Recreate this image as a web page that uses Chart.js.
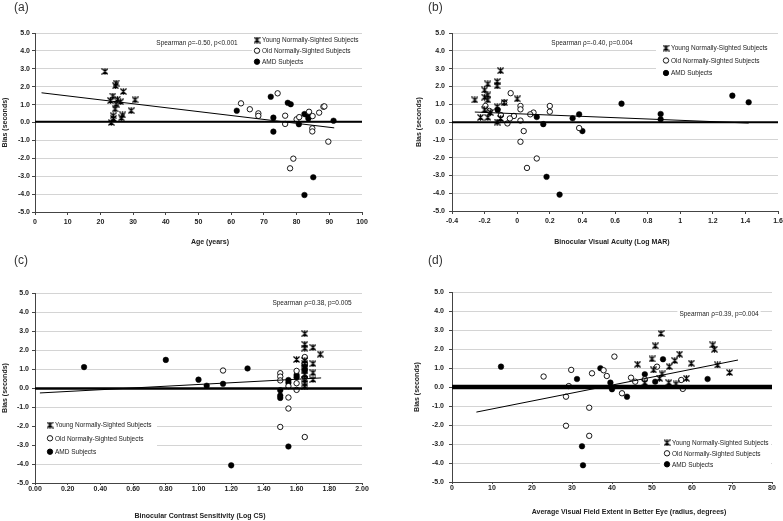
<!DOCTYPE html>
<html>
<head>
<meta charset="utf-8">
<script src="https://cdn.jsdelivr.net/npm/chart.js@4.4.1/dist/chart.umd.min.js"></script>
<style>
  html, body { margin: 0; padding: 0; background: #fff; }
  #wrap { position: relative; width: 783px; height: 521px; overflow: hidden; }
  canvas { position: absolute; }
  .letter { position: absolute; font: 12px 'Liberation Sans', Arial, sans-serif; color: #333; line-height: 12px; }
</style>
</head>
<body>
<div id="wrap">
  <canvas id="chartA" width="390" height="260" style="left:0;top:0"></canvas>
  <canvas id="chartB" width="393" height="260" style="left:390px;top:0"></canvas>
  <canvas id="chartC" width="390" height="261" style="left:0;top:260px"></canvas>
  <canvas id="chartD" width="393" height="261" style="left:390px;top:260px"></canvas>
  <div class="letter" style="left:14px;top:1px">(a)</div>
  <div class="letter" style="left:428px;top:1px">(b)</div>
  <div class="letter" style="left:14px;top:254px">(c)</div>
  <div class="letter" style="left:428px;top:254px">(d)</div>
</div>
<script>
// ---- values ----
const legendLabels = ['Young Normally-Sighted Subjects', 'Old Normally-Sighted Subjects', 'AMD Subjects'];

// (a) bias vs age
const youngAge = [[21.4,2.85],[24.8,2.2],[24.6,2.05],[27.0,1.73],[23.8,1.48],[25.2,1.3],[26.2,1.16],[23.1,1.22],[30.6,1.27],[24.8,1.03],[24.5,0.76],[29.4,0.66],[26.8,0.42],[23.9,0.38],[24.0,0.22],[26.4,0.26],[23.3,0.0]];
const oldAge = [[63.0,1.07],[65.7,0.74],[68.3,0.51],[68.3,0.37],[74.2,1.63],[76.5,0.38],[76.5,-0.08],[79.0,-2.02],[78.0,-2.56],[80.0,0.18],[80.8,0.3],[83.8,0.6],[84.9,0.36],[84.8,-0.33],[84.8,-0.5],[86.9,0.55],[88.2,0.88],[88.5,0.9],[89.7,-1.07]];
const amdAge = [[61.7,0.66],[72.1,1.44],[72.9,0.27],[72.9,-0.51],[77.3,1.1],[78.2,1.02],[80.7,-0.1],[82.4,0.47],[83.3,0.42],[83.6,0.23],[85.1,-3.06],[82.4,-4.05],[91.3,0.1]];
const fitAge = [[2, 1.66], [91.5, -0.3]];
const zeroAge = [[0, 0.04], [100, 0.04]];

// (b) bias vs visual acuity
const youngVA = [[-0.26,1.24],[-0.225,0.26],[-0.2,1.8],[-0.2,1.4],[-0.18,2.14],[-0.18,1.52],[-0.18,1.24],[-0.2,0.68],[-0.18,0.26],[-0.165,0.53],[-0.123,2.27],[-0.123,2.03],[-0.123,0.86],[-0.123,0.0],[-0.102,2.88],[-0.102,0.2],[-0.08,1.09],[0.0,1.3]];
const oldVA = [[-0.195,0.9],[-0.04,1.62],[0.02,0.9],[0.02,0.71],[-0.02,0.34],[-0.045,0.2],[-0.06,-0.08],[-0.1,0.39],[0.02,0.08],[0.04,-0.51],[0.02,-1.11],[0.1,0.53],[0.08,0.43],[0.2,0.9],[0.2,0.58],[0.12,-2.05],[0.06,-2.58],[0.38,-0.34],[-0.08,1.09],[-0.17,0.62]];
const amdVA = [[-0.12,0.68],[0.12,0.28],[0.16,-0.12],[0.18,-3.08],[0.26,-4.08],[0.34,0.21],[0.38,0.43],[0.40,-0.51],[0.64,1.03],[0.88,0.45],[0.88,0.15],[1.32,1.48],[1.42,1.11]];
const fitVA = [[-0.26, 0.56], [1.42, -0.06]];
const zeroVA = [[-0.4, -0.02], [1.6, -0.02]];

// (c) bias vs contrast sensitivity
const youngCS = [[1.65,2.86],[1.65,2.3],[1.65,2.1],[1.70,2.14],[1.745,1.78],[1.60,1.5],[1.65,1.45],[1.70,1.28],[1.65,1.3],[1.65,1.1],[1.65,0.9],[1.70,0.8],[1.65,0.7],[1.70,0.45],[1.65,0.45],[1.65,0.25],[1.65,0.1]];
const oldCS = [[1.15,0.92],[1.50,0.78],[1.50,0.6],[1.50,0.4],[1.50,-2.05],[1.55,-0.5],[1.55,-1.08],[1.60,0.9],[1.60,0.25],[1.60,-0.1],[1.65,1.63],[1.65,1.3],[1.65,-2.58],[1.55,0.1],[1.65,0.55]];
const amdCS = [[0.30,1.1],[0.80,1.48],[1.00,0.44],[1.05,0.12],[1.15,0.22],[1.30,1.03],[1.50,-0.12],[1.50,-0.4],[1.50,-0.52],[1.55,0.42],[1.55,0.28],[1.60,0.68],[1.60,0.56],[1.65,1.18],[1.65,0.95],[1.55,-3.08],[1.20,-4.07]];
const fitCS = [[0.03, -0.26], [1.75, 0.53]];
const zeroCS = [[0, -0.02], [2, -0.02]];

// (d) bias vs visual field extent
const youngVF = [[46.4,1.2],[48.2,0.23],[50,1.48],[50.8,2.17],[50.4,0.9],[52.25,2.82],[51.9,0.46],[52.5,0.69],[54.3,1.07],[54.2,0.23],[55.7,1.39],[56,0.16],[56.9,1.73],[58.6,0.46],[59.8,1.25],[65.2,2.22],[65.6,1.99],[66.4,1.16],[69.4,0.76]];
const oldVF = [[22.9,0.55],[28.5,-0.51],[28.5,-2.04],[29.2,0.05],[29.8,0.9],[34.3,-2.57],[34.3,-1.09],[35,0.72],[37.9,0.88],[38.7,0.58],[40.6,1.6],[42.5,-0.33],[44.75,0.49],[45.8,0.28],[48.2,0.4],[51.25,1.07],[57.3,0.37],[57.7,-0.1]];
const amdVF = [[12.25,1.07],[31.25,0.42],[32.5,-3.12],[32.75,-4.12],[37.1,0.99],[39.6,0.23],[40,-0.12],[43.75,-0.51],[48.2,0.67],[50.8,0.28],[52.75,1.46],[63.9,0.42]];
const fitVF = [[6.1, -1.32], [71.5, 1.42]];
const zeroVF = [[0, 0.0], [80, 0.0]];

const FONT = "'Liberation Sans', Arial, sans-serif";

// star marker (x with a vertical stroke) used for the young group
const star = document.createElement('canvas');
star.width = 7; star.height = 7;
const sc = star.getContext('2d');
sc.strokeStyle = '#000';
sc.lineWidth = 1.2;
sc.beginPath();
sc.moveTo(0.5, 0.5); sc.lineTo(6.5, 6.5);
sc.moveTo(6.5, 0.5); sc.lineTo(0.5, 6.5);
sc.moveTo(3.5, 0.3); sc.lineTo(3.5, 6.7);
sc.stroke();

function drawMarker(ctx, kind, x, y) {
    if (kind === 0) {
        ctx.drawImage(star, x - 3.5, y - 3.5);
        return;
    }
    ctx.beginPath();
    ctx.arc(x, y, 2.7, 0, Math.PI * 2);
    ctx.fillStyle = kind === 1 ? '#fff' : '#000';
    ctx.fill();
    ctx.lineWidth = 0.9;
    ctx.strokeStyle = '#000';
    ctx.stroke();
}

// white boxes, x title, Spearman note and the in-plot legend
const decor = {
    id: 'decor',
    beforeDatasetsDraw(chart, args, o) {
        const ctx = chart.ctx;
        ctx.save();
        ctx.fillStyle = '#fff';
        const b = o.legendBox;
        ctx.fillRect(b[0], b[1], b[2], b[3]);
        ctx.font = '6.5px ' + FONT;
        const w = ctx.measureText(o.note).width;
        ctx.fillRect(o.noteAt[0] - w / 2 - 2, o.noteAt[1] - 4.5, w + 4, 9);
        ctx.restore();
    },
    afterDraw(chart, args, o) {
        const ctx = chart.ctx;
        ctx.save();
        ctx.textBaseline = 'middle';
        ctx.textAlign = 'center';
        ctx.fillStyle = '#222';
        ctx.font = 'bold 7px ' + FONT;
        ctx.fillText(o.xTitle, o.xTitleAt[0], o.xTitleAt[1]);
        ctx.font = '6.5px ' + FONT;
        ctx.fillText(o.note, o.noteAt[0], o.noteAt[1]);
        ctx.textAlign = 'left';
        o.rows.forEach((y, i) => {
            drawMarker(ctx, i, o.legendX, y);
            ctx.fillStyle = '#222';
            ctx.fillText(legendLabels[i], o.legendX + 5, y + 0.5);
        });
        ctx.restore();
    }
};

function pts(arr) {
    return arr.map(p => ({ x: p[0], y: p[1] }));
}

function makePanel(id, p) {
    const tickFont = { family: FONT, size: 7, weight: 'bold' };
    const titleFont = { family: FONT, size: 7, weight: 'bold' };
    return new Chart(document.getElementById(id), {
        type: 'scatter',
        data: {
            datasets: [
                { data: pts(p.fit), showLine: true, borderColor: '#000', borderWidth: 1, pointRadius: 0, fill: false, order: 0 },
                { data: pts(p.zero), showLine: true, borderColor: '#000', borderWidth: p.zeroWidth, pointRadius: 0, fill: false, order: 1 },
                { data: pts(p.young), pointStyle: star, pointRadius: 3.5, order: 2 },
                { data: pts(p.old), pointStyle: 'circle', pointRadius: 2.7, backgroundColor: '#fff', borderColor: '#000', borderWidth: 0.9, order: 3 },
                { data: pts(p.amd), pointStyle: 'circle', pointRadius: 2.8, backgroundColor: '#000', borderColor: '#000', borderWidth: 0.5, order: 4 }
            ]
        },
        options: {
            responsive: false,
            animation: false,
            layout: { padding: p.pad },
            plugins: {
                legend: { display: false },
                tooltip: { enabled: false },
                decor: p.decor
            },
            scales: {
                x: {
                    type: 'linear',
                    min: p.xMin, max: p.xMax,
                    ticks: { stepSize: p.xStep, color: '#222', font: tickFont, padding: p.xTickPad, maxRotation: 0, autoSkip: false, callback: p.xFmt },
                    grid: { drawOnChartArea: false, color: '#444', tickLength: p.xTickLen },
                    border: { color: '#444', width: 1 },
                    title: { display: false },
                    afterFit: s => { s.height = p.xHeight; s.paddingLeft = 0; s.paddingRight = 0; }
                },
                y: {
                    min: -5, max: 5,
                    ticks: { stepSize: 1, color: '#222', font: tickFont, padding: p.yTickPad, callback: v => v.toFixed(1) },
                    grid: { color: '#d4d4d4', tickColor: '#444', tickLength: 3 },
                    border: { color: '#444', width: 1 },
                    title: { display: true, text: 'Bias (seconds)', color: '#222', font: titleFont, padding: { top: 1, bottom: 0 } },
                    afterFit: s => { s.width = p.yWidth; s.paddingTop = 0; s.paddingBottom = 0; }
                }
            }
        },
        plugins: [decor]
    });
}

makePanel('chartA', {
    young: youngAge, old: oldAge, amd: amdAge, fit: fitAge, zero: zeroAge, zeroWidth: 2,
    xMin: 0, xMax: 100, xStep: 10, xFmt: v => v,
    pad: { left: 0, top: 33, right: 28, bottom: 9 }, yWidth: 35, xHeight: 39,
    xTickPad: 3, xTickLen: 3, yTickPad: 2,
    decor: { xTitle: 'Age (years)', xTitleAt: [210, 242], note: 'Spearman \u03c1=-0.50, p<0.001', noteAt: [197, 43], legendBox: [252, 35, 110, 32], legendX: 257, rows: [40, 50.7, 61.7] }
});

makePanel('chartB', {
    young: youngVA, old: oldVA, amd: amdVA, fit: fitVA, zero: zeroVA, zeroWidth: 2,
    xMin: -0.4, xMax: 1.6, xStep: 0.2, xFmt: v => String(Math.round(v * 10) / 10),
    pad: { left: 24, top: 33, right: 5, bottom: 9 }, yWidth: 38, xHeight: 40,
    xTickPad: 3, xTickLen: 3, yTickPad: 4,
    decor: { xTitle: 'Binocular Visual Acuity (Log MAR)', xTitleAt: [222, 242], note: 'Spearman \u03c1=-0.40, p=0.004', noteAt: [202, 43], legendBox: [266, 40, 122, 40], legendX: 276, rows: [48, 60.5, 73] }
});

makePanel('chartC', {
    young: youngCS, old: oldCS, amd: amdCS, fit: fitCS, zero: zeroCS, zeroWidth: 2.5,
    xMin: 0, xMax: 2, xStep: 0.2, xFmt: v => v.toFixed(2),
    pad: { left: 0, top: 33, right: 28, bottom: 0 }, yWidth: 35, xHeight: 38,
    xTickPad: 0, xTickLen: 2, yTickPad: 3,
    decor: { xTitle: 'Binocular Contrast Sensitivity (Log CS)', xTitleAt: [200, 256.5], note: 'Spearman \u03c1=0.38, p=0.005', noteAt: [312, 43], legendBox: [36, 158, 121, 40], legendX: 50, rows: [165, 178.3, 191.7] }
});

makePanel('chartD', {
    young: youngVF, old: oldVF, amd: amdVF, fit: fitVF, zero: zeroVF, zeroWidth: 4.5,
    xMin: 0, xMax: 80, xStep: 10, xFmt: v => v,
    pad: { left: 22, top: 32, right: 11, bottom: 4 }, yWidth: 40, xHeight: 35,
    xTickPad: 0, xTickLen: 2, yTickPad: 5,
    decor: { xTitle: 'Average Visual Field Extent in Better Eye (radius, degrees)', xTitleAt: [239, 252], note: 'Spearman \u03c1=0.39, p=0.004', noteAt: [329, 54], legendBox: [270, 176, 111, 34], legendX: 277, rows: [182.7, 193.3, 204.3] }
});
</script>
</body>
</html>
